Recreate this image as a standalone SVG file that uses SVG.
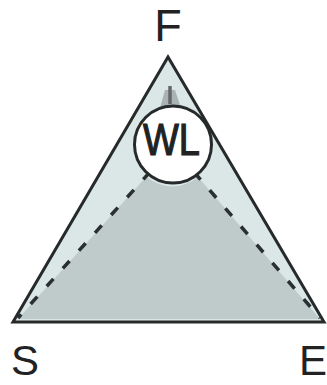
<svg xmlns="http://www.w3.org/2000/svg" width="327" height="385" viewBox="0 0 327 385">
  <style>
    .lbl { font-family: "Liberation Sans", Arial, sans-serif; fill: #222; }
    .dash { stroke: #2a3030; stroke-width: 3.5; stroke-dasharray: 10 14; fill: none; }
  </style>
  <rect width="327" height="385" fill="#ffffff"/>
  <g id="triangle">
    <polygon points="13,322 168,57 324,322" fill="#dbe6e6" stroke="none"/>
    <path d="M18,319 L146,177 Q173,196 198,177 L320,319 Z" fill="#bfcaca"/>
    <path d="M165,90 L175,90 L181,108 L160,108 Z" fill="#a9b3b3"/>
    <line x1="170" y1="86" x2="170" y2="104" stroke="#666" stroke-width="3.5"/>
  </g>
  <g id="connectors">
    <line class="dash" x1="150" y1="172" x2="18" y2="318"/>
    <line class="dash" x1="194" y1="172" x2="320" y2="318"/>
  </g>
  <g id="outline">
    <polygon points="13,322 168,57 324,322" fill="none" stroke="#262a2a" stroke-width="3" stroke-linejoin="miter"/>
  </g>
  <g id="node-WL">
    <circle cx="173" cy="144.5" r="38.5" fill="#ffffff" stroke="#262a2a" stroke-width="3"/>
    <text class="lbl" x="171.5" y="155" font-size="44" text-anchor="middle" textLength="57" lengthAdjust="spacingAndGlyphs" stroke="#222" stroke-width="1.2">WL</text>
  </g>
  <g id="node-F">
    <text class="lbl" x="168" y="41" font-size="45" text-anchor="middle">F</text>
  </g>
  <g id="node-S">
    <text class="lbl" x="11" y="375" font-size="42">S</text>
  </g>
  <g id="node-E">
    <text class="lbl" x="299" y="375" font-size="42">E</text>
  </g>
</svg>
